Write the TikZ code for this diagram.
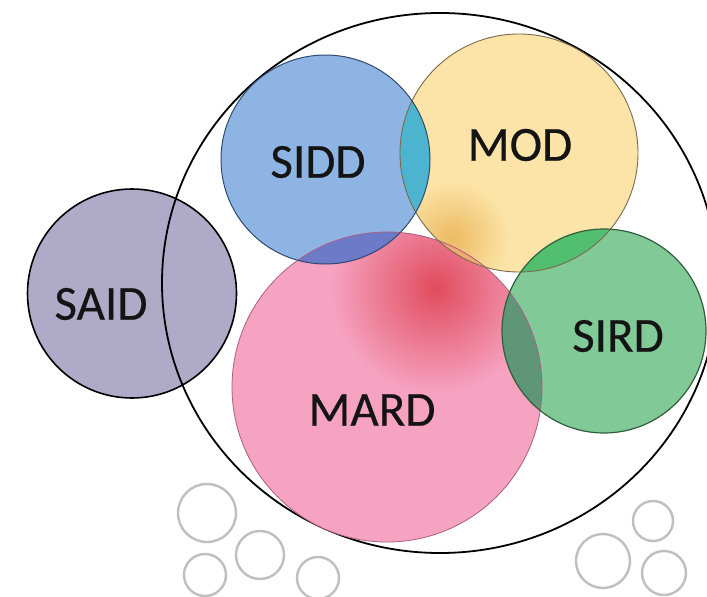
\documentclass[tikz,border=0pt]{standalone}
\usepackage{fontspec}
\setmainfont{Carlito}[FakeBold=0.35]
\begin{document}
\begin{tikzpicture}[x=1pt,y=-1pt,
  lbl/.style={inner sep=0pt, text=black!92, font=\fontsize{49}{49}\selectfont},
  ghost/.style={draw=black!25, line width=2.4pt}]
\definecolor{saidfill}{RGB}{176,170,201}
\definecolor{mardpink}{RGB}{246,162,193}
\definecolor{glowred}{RGB}{224,76,92}
\definecolor{modfill}{RGB}{252,228,168}
\definecolor{modglow}{RGB}{236,186,98}
\definecolor{siddfill}{RGB}{141,180,226}
\definecolor{sirdfill}{RGB}{130,201,152}
\definecolor{lensteal}{RGB}{76,180,206}
\definecolor{lenspurple}{RGB}{108,122,200}
\definecolor{lensgreen}{RGB}{82,190,112}
\definecolor{lensdkgreen}{RGB}{96,150,120}
\definecolor{lensorange}{RGB}{242,168,112}
\definecolor{siddline}{RGB}{47,74,110}
\definecolor{modline}{RGB}{122,106,74}
\definecolor{sirdline}{RGB}{47,94,62}
\definecolor{mardline}{RGB}{170,96,128}
\useasboundingbox (0,0) rectangle (707,597);
\fill[white] (0,0) rectangle (707,597);
% SAID
\path[fill=saidfill, draw=black, line width=1.6pt] (132,293.5) circle[radius=104.5pt];
% outer ellipse
\draw[black, line width=1.8pt] (440,283) ellipse[x radius=278pt, y radius=270pt];
% MARD with glow
\fill[mardpink] (387,387) circle[radius=155pt];
\begin{scope}
  \clip (387,387) circle[radius=155pt];
  \shade[inner color=glowred, outer color=mardpink] (436,288) circle[radius=105pt];
\end{scope}
% MOD with glow
\fill[modfill] (519,153) circle[radius=119pt];
\begin{scope}
  \clip (519,153) circle[radius=119pt];
  \shade[inner color=modglow, outer color=modfill] (452,238) circle[radius=58pt];
\end{scope}
% SIDD
\fill[siddfill] (325.5,159.5) circle[radius=104.5pt];
% SIRD
\fill[sirdfill] (604,331) circle[radius=102pt];
% overlaps
\begin{scope}
  \clip (325.5,159.5) circle[radius=104.5pt];
  \fill[lensteal] (519,153) circle[radius=119pt];
\end{scope}
\begin{scope}
  \clip (325.5,159.5) circle[radius=104.5pt];
  \fill[lenspurple] (387,387) circle[radius=155pt];
\end{scope}
\begin{scope}
  \clip (519,153) circle[radius=119pt];
  \fill[lensgreen] (604,331) circle[radius=102pt];
\end{scope}
\begin{scope}
  \clip (387,387) circle[radius=155pt];
  \fill[lensdkgreen] (604,331) circle[radius=102pt];
\end{scope}
\begin{scope}
  \clip (387,387) circle[radius=155pt];
  \fill[lensorange] (519,153) circle[radius=119pt];
\end{scope}
% outlines
\draw[mardline, line width=0.8pt] (387,387) circle[radius=155pt];
\draw[modline, line width=0.9pt] (519,153) circle[radius=119pt];
\draw[siddline, line width=1.0pt] (325.5,159.5) circle[radius=104.5pt];
\draw[sirdline, line width=1.2pt] (604,331) circle[radius=102pt];
% labels
\node[lbl] (said) at (101,304) {SAID};
\node[lbl] (sidd) at (318,162) {SIDD};
\node[lbl] (mod) at (520,145) {MOD};
\node[lbl] (sird) at (618,336) {SIRD};
\node[lbl] (mard) at (372,410) {MARD};
% small grey circles
\draw[ghost] (207,513) circle[radius=29pt];
\draw[ghost] (260,555) circle[radius=24pt];
\draw[ghost] (205,575) circle[radius=21pt];
\draw[ghost] (318,578) circle[radius=21pt];
\draw[ghost] (653,521) circle[radius=20pt];
\draw[ghost] (603,561) circle[radius=27pt];
\draw[ghost] (664,573) circle[radius=22pt];
\end{tikzpicture}
\end{document}
